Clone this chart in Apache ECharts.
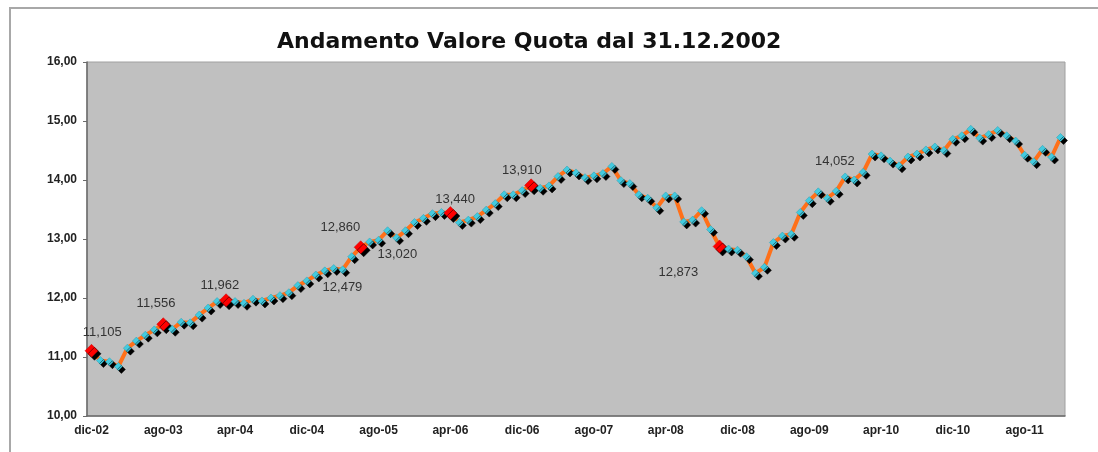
<!DOCTYPE html>
<html>
<head>
  <meta charset="utf-8">
  <title>Andamento Valore Quota</title>
  <style>
    body { margin: 0; background: #fff; }
    #main { width: 1098px; height: 452px; }
  </style>
</head>
<body>
<div id="main"></div>
<script src="https://cdn.jsdelivr.net/npm/echarts@6/dist/echarts.min.js"></script>
<script>
// mesi da dic-02 a dic-11
var mesi = [
  "dic-02",
  "gen-03","feb-03","mar-03","apr-03","mag-03","giu-03","lug-03","ago-03","set-03","ott-03","nov-03","dic-03",
  "gen-04","feb-04","mar-04","apr-04","mag-04","giu-04","lug-04","ago-04","set-04","ott-04","nov-04","dic-04",
  "gen-05","feb-05","mar-05","apr-05","mag-05","giu-05","lug-05","ago-05","set-05","ott-05","nov-05","dic-05",
  "gen-06","feb-06","mar-06","apr-06","mag-06","giu-06","lug-06","ago-06","set-06","ott-06","nov-06","dic-06",
  "gen-07","feb-07","mar-07","apr-07","mag-07","giu-07","lug-07","ago-07","set-07","ott-07","nov-07","dic-07",
  "gen-08","feb-08","mar-08","apr-08","mag-08","giu-08","lug-08","ago-08","set-08","ott-08","nov-08","dic-08",
  "gen-09","feb-09","mar-09","apr-09","mag-09","giu-09","lug-09","ago-09","set-09","ott-09","nov-09","dic-09",
  "gen-10","feb-10","mar-10","apr-10","mag-10","giu-10","lug-10","ago-10","set-10","ott-10","nov-10","dic-10",
  "gen-11","feb-11","mar-11","apr-11","mag-11","giu-11","lug-11","ago-11","set-11","ott-11","nov-11","dic-11"
];

// valore quota mensile
var quota = [
  11.105,
  10.94, 10.92, 10.84, 11.15, 11.27, 11.37, 11.46, 11.556, 11.47, 11.59, 11.58, 11.71,
  11.83, 11.94, 11.962, 11.94, 11.91, 11.98, 11.95, 12.00, 12.04, 12.09, 12.21, 12.29,
  12.39, 12.46, 12.50, 12.479, 12.70, 12.860, 12.95, 12.98, 13.14, 13.020, 13.14, 13.28,
  13.35, 13.43, 13.45, 13.440, 13.28, 13.32, 13.38, 13.49, 13.60, 13.75, 13.75, 13.82,
  13.910, 13.86, 13.90, 14.06, 14.17, 14.12, 14.04, 14.07, 14.11, 14.23, 13.99, 13.94,
  13.75, 13.69, 13.53, 13.73, 13.73, 13.29, 13.32, 13.48, 13.16, 12.873, 12.83, 12.81,
  12.70, 12.42, 12.52, 12.94, 13.05, 13.08, 13.45, 13.65, 13.80, 13.69, 13.81, 14.052,
  14.00, 14.13, 14.44, 14.41, 14.32, 14.24, 14.39, 14.44, 14.51, 14.56, 14.50, 14.69,
  14.75, 14.86, 14.71, 14.77, 14.84, 14.75, 14.66, 14.42, 14.31, 14.52, 14.39, 14.72
];

// punti evidenziati in rosso
var puntiRossi = [0, 8, 15, 30, 40, 49, 70];
// punti con etichetta del valore
var puntiEtichetta = [0, 8, 15, 28, 30, 34, 40, 49, 70, 84];

var tickY = [10, 11, 12, 13, 14, 15, 16];

// spostamento delle etichette rispetto al centro del punto
var spostamenti = {
  0: [11, -18], 8: [-7, -21], 15: [-6, -15], 28: [0, 18], 30: [-20, -20],
  34: [1, 17], 40: [5, -13], 49: [-9, -15], 70: [-41, 26], 84: [-10, -15]
};

function virgola(v, d) {
  return v.toFixed(d).replace(".", ",");
}

var dati = [];
for (var i = 0; i < quota.length; i++) {
  var item = { value: quota[i] };
  var dim = 8;
  if (puntiRossi.indexOf(i) >= 0) {
    dim = 13;
    item.symbolSize = dim;
    item.itemStyle = { color: "#ff0000", borderColor: "#cc0000" };
  }
  if (puntiEtichetta.indexOf(i) >= 0) {
    item.label = {
      show: true,
      position: [dim / 2 + spostamenti[i][0], dim / 2 + spostamenti[i][1]],
      align: "center",
      verticalAlign: "middle",
      formatter: virgola(quota[i], 3)
    };
  }
  dati.push(item);
}

var myChart = echarts.init(document.getElementById("main"));
myChart.setOption({
  animation: false,
  backgroundColor: "#ffffff",
  title: {
    text: "Andamento Valore Quota dal 31.12.2002",
    left: 277,
    top: 31,
    padding: 0,
    textStyle: {
      fontFamily: "DejaVu Sans, sans-serif",
      fontSize: 22,
      fontWeight: "bold",
      color: "#111"
    }
  },
  graphic: [{
    type: "rect",
    z: -10,
    shape: { x: 10, y: 8, width: 1200, height: 600 },
    style: { fill: "none", stroke: "#a8a8a8", lineWidth: 2 }
  }],
  grid: {
    left: 87,
    top: 62,
    right: 33,
    bottom: 36,
    show: true,
    backgroundColor: "#c0c0c0",
    borderColor: "#a0a0a0",
    borderWidth: 1
  },
  xAxis: {
    type: "category",
    data: mesi,
    boundaryGap: true,
    axisLine: { lineStyle: { color: "#6a6a6a", width: 1.5 } },
    axisTick: { interval: 7, length: 4, lineStyle: { color: "#6a6a6a" } },
    axisLabel: {
      interval: 7,
      margin: 9,
      color: "#222",
      fontFamily: "Liberation Sans, Arial, sans-serif",
      fontSize: 12,
      fontWeight: "bold"
    },
    splitLine: { show: false }
  },
  yAxis: {
    type: "value",
    min: tickY[0],
    max: tickY[tickY.length - 1],
    interval: 1,
    axisLine: { show: true, lineStyle: { color: "#6a6a6a", width: 1.5 } },
    axisTick: { show: true, length: 4, lineStyle: { color: "#6a6a6a" } },
    axisLabel: {
      margin: 10,
      color: "#222",
      fontFamily: "Liberation Sans, Arial, sans-serif",
      fontSize: 12,
      fontWeight: "bold",
      formatter: function (v) { return virgola(v, 2); }
    },
    splitLine: { show: false }
  },
  series: [{
    name: "Valore quota",
    type: "line",
    data: dati,
    showAllSymbol: true,
    symbol: "diamond",
    symbolSize: 8,
    lineStyle: { color: "#ff7019", width: 4 },
    itemStyle: {
      color: "#42cbe0",
      borderColor: "#2a9fb0",
      borderWidth: 0.5,
      shadowColor: "#000000",
      shadowBlur: 0,
      shadowOffsetX: 3,
      shadowOffsetY: 3
    },
    label: {
      color: "#333",
      fontFamily: "Liberation Sans, Arial, sans-serif",
      fontSize: 13
    },
    labelLayout: { hideOverlap: false }
  }]
});
</script>
</body>
</html>
